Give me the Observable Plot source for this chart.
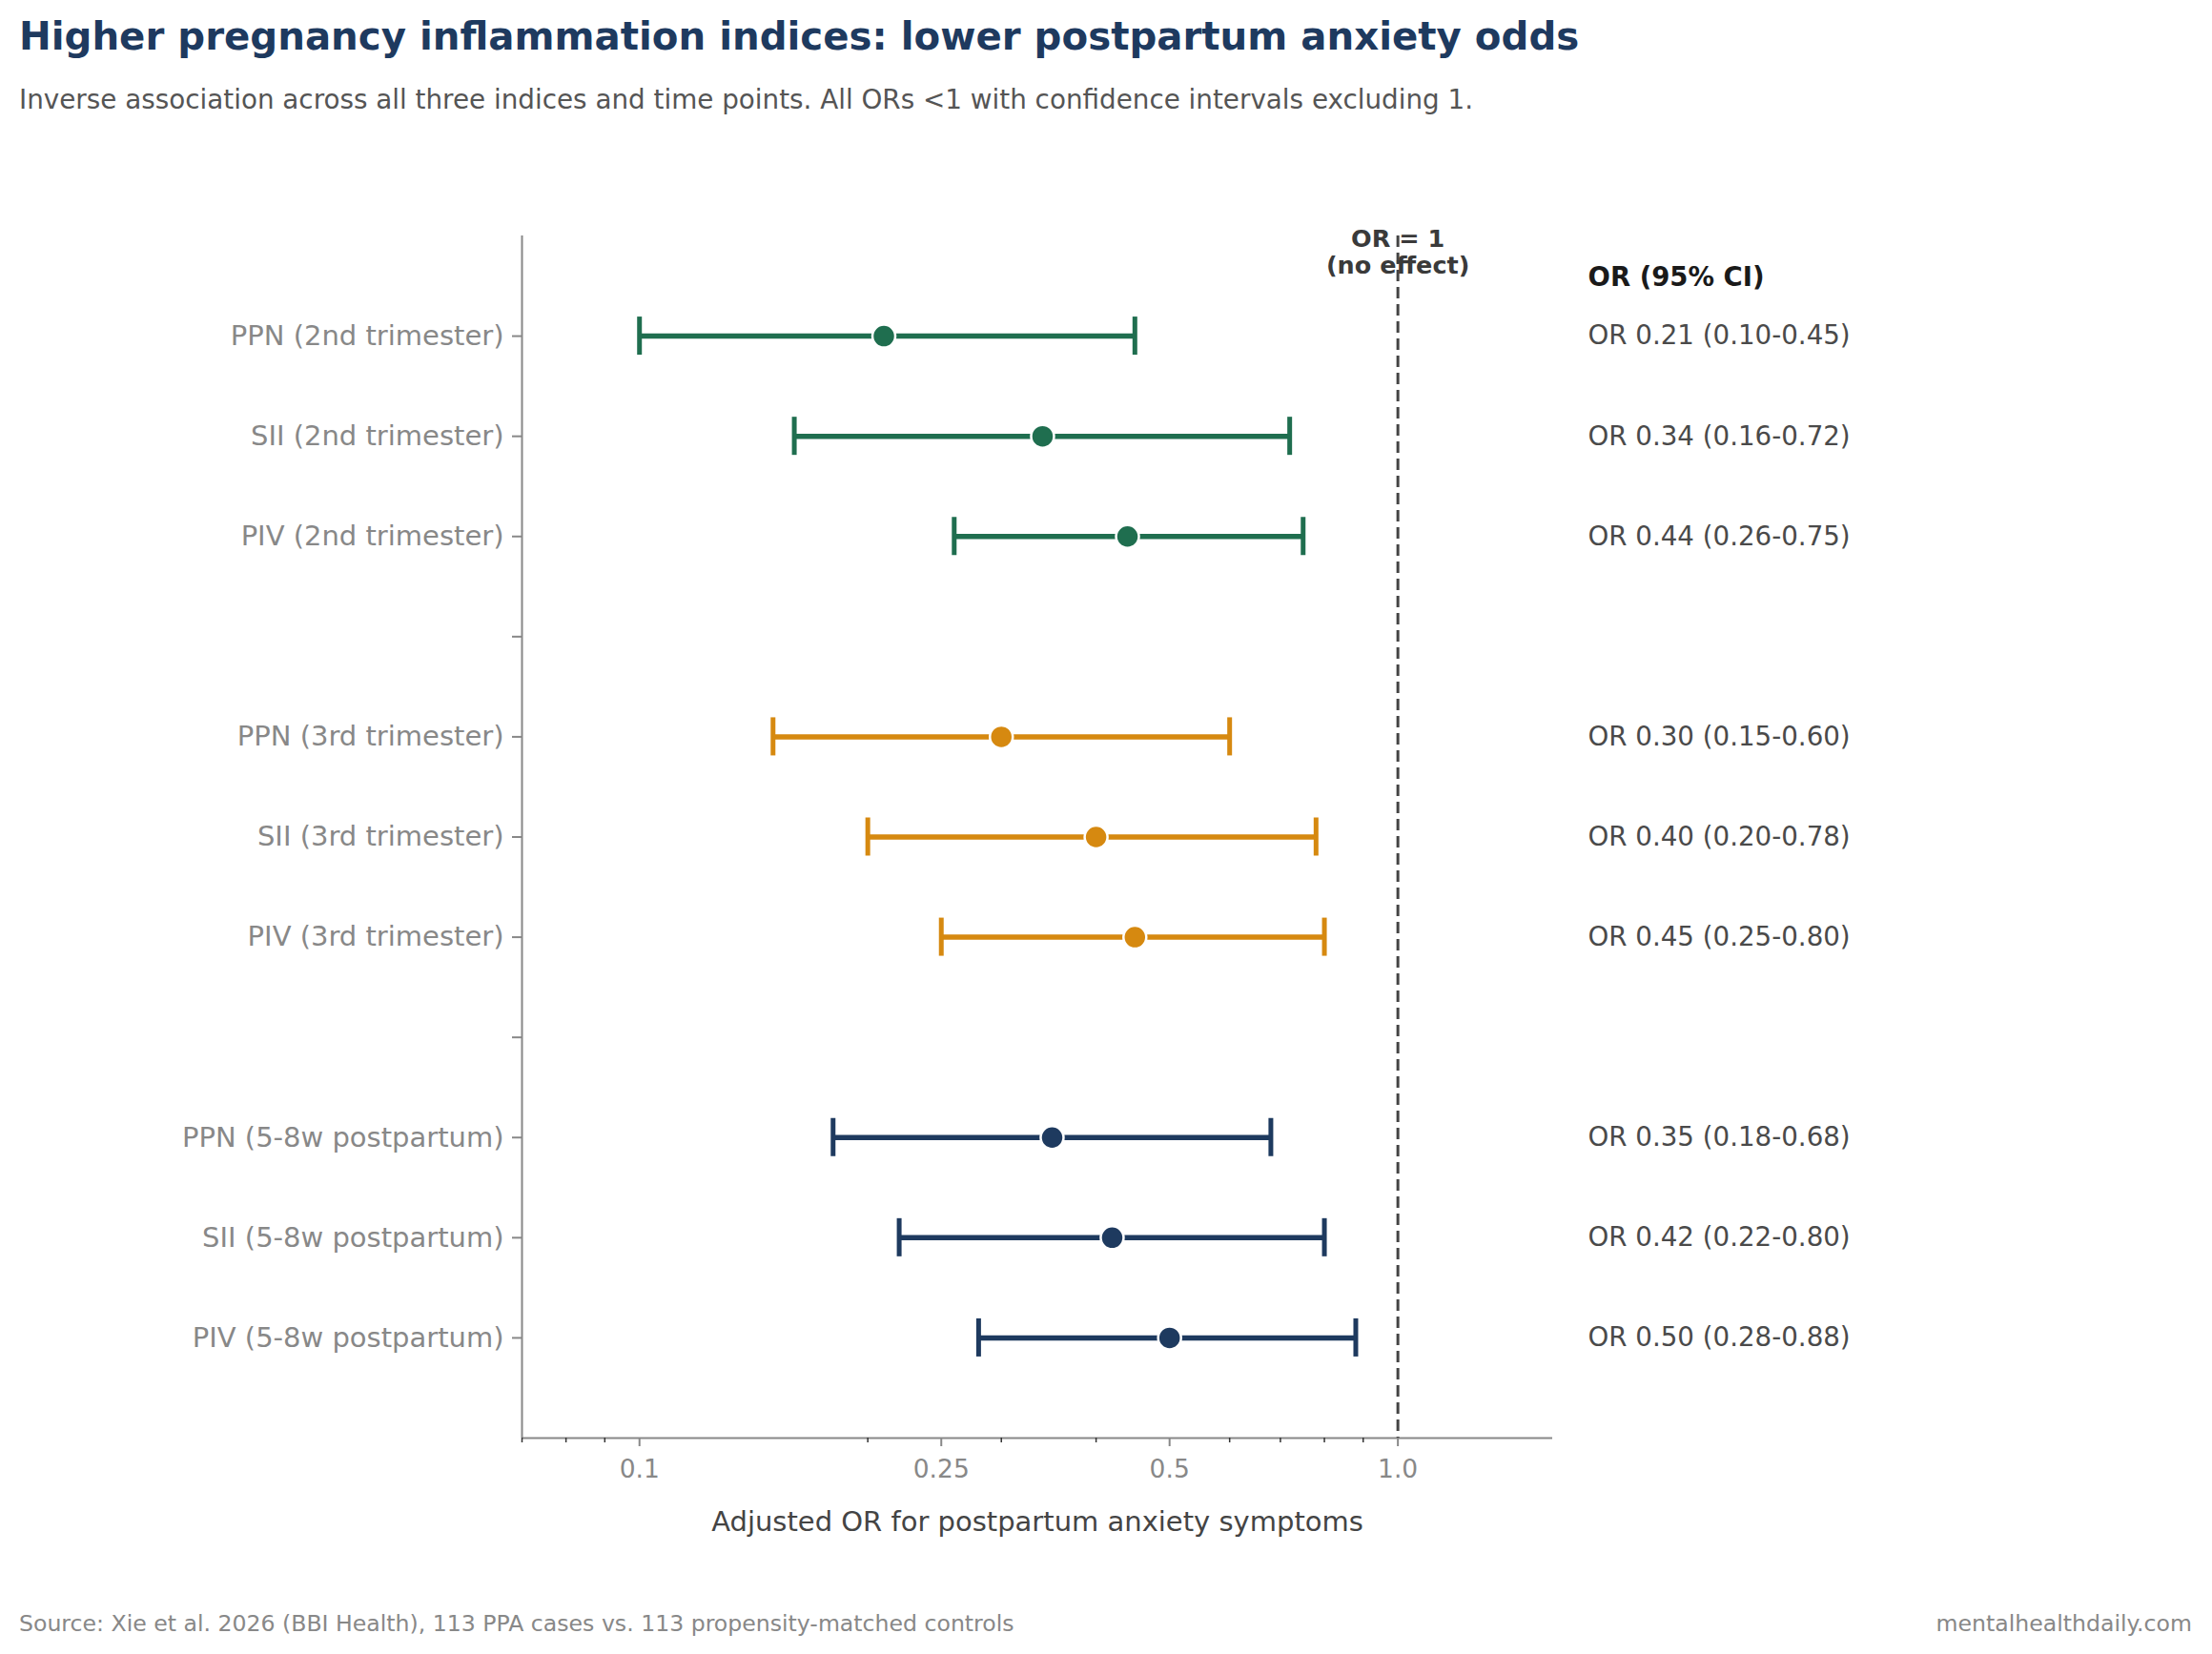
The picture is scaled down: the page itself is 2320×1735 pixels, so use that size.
<!DOCTYPE html>
<html>
<head>
<meta charset="utf-8">
<script src="https://cdn.jsdelivr.net/npm/d3@7"></script>
<script src="https://cdn.jsdelivr.net/npm/@observablehq/plot@0.6"></script>
<style>
  body { margin: 0; background: #fff; font-family: "DejaVu Sans", sans-serif; }
  #page { position: relative; width: 2320px; height: 1735px; overflow: hidden; background: #fff; }
  .title { position: absolute; left: 20px; top: 15px; font-size: 40.3px; font-weight: bold; color: #1e3a5f; line-height: 1.2; white-space: nowrap; }
  .subtitle { position: absolute; left: 20px; top: 88px; font-size: 27.8px; color: #555; line-height: 1.2; white-space: nowrap; }
  #chart { position: absolute; left: 0; top: 140px; }
  .foot { position: absolute; top: 1689px; font-size: 23.6px; color: #888; line-height: 1.2; white-space: nowrap; }
  .foot.left { left: 20px; }
  .foot.right { right: 21px; }
</style>
</head>
<body>
<div id="page">
  <div class="title">Higher pregnancy inflammation indices: lower postpartum anxiety odds</div>
  <div class="subtitle">Inverse association across all three indices and time points. All ORs &lt;1 with confidence intervals excluding 1.</div>
  <div id="chart"></div>
  <div class="foot left">Source: Xie et al. 2026 (BBI Health), 113 PPA cases vs. 113 propensity-matched controls</div>
  <div class="foot right">mentalhealthdaily.com</div>
</div>
<script>
// Inflammation indices and measurement periods
const indices = ["PPN", "SII", "PIV"];
const periods = ["2nd trimester", "3rd trimester", "5-8w postpartum"];
const periodColors = ["#1f6e4f", "#d68910", "#1e3a5f"];

// Adjusted odds ratios with 95% CI, ordered period by period (PPN, SII, PIV)
const oddsRatios = [0.21, 0.34, 0.44, 0.30, 0.40, 0.45, 0.35, 0.42, 0.50];
const ciLower    = [0.10, 0.16, 0.26, 0.15, 0.20, 0.25, 0.18, 0.22, 0.28];
const ciUpper    = [0.45, 0.72, 0.75, 0.60, 0.78, 0.80, 0.68, 0.80, 0.88];

// Log-scale axis ticks
const xDomain = [0.07, 1.6];
const majorTicks = [0.1, 0.25, 0.5, 1.0];
const majorTickLabels = ["0.1", "0.25", "0.5", "1.0"];
const minorTicks = [0.07, 0.08, 0.09, 0.2, 0.3, 0.4, 0.6, 0.7, 0.8, 0.9];

// One row per estimate, with an empty row between periods
const rows = periods.flatMap((period, g) =>
  indices.map((index, k) => {
    const i = g * indices.length + k;
    return {
      label: `${index} (${period})`,
      pos: g * (indices.length + 1) + k,
      color: periodColors[g],
      or: oddsRatios[i],
      lo: ciLower[i],
      hi: ciUpper[i]
    };
  })
);
const lastPos = d3.max(rows, d => d.pos);
const yDomain = [-1, lastPos + 1];
const rowTicks = d3.range(0, lastPos + 1);
const labelAt = new Map(rows.map(d => [d.pos, d.label]));
const fmt = d3.format(".2f");

const chart = Plot.plot({
  width: 2320,
  height: 1520,
  marginTop: 107,
  marginBottom: 152,
  marginLeft: 547,
  marginRight: 692,
  style: { fontFamily: "DejaVu Sans, sans-serif", background: "#fff", overflow: "visible" },
  x: { type: "log", domain: xDomain },
  y: { domain: yDomain, reverse: true },
  color: { type: "identity" },
  marks: [
    // spines
    Plot.ruleX([xDomain[0]], { stroke: "#888", strokeWidth: 2 }),
    Plot.ruleY([yDomain[1]], { stroke: "#888", strokeWidth: 2 }),
    // axes
    Plot.axisY({
      ticks: rowTicks,
      tickFormat: p => labelAt.get(p) ?? "",
      tickSize: 10,
      tickPadding: 9,
      fontSize: 29,
      color: "#888",
      strokeWidth: 2,
      label: null
    }),
    Plot.axisX({
      ticks: minorTicks,
      tickFormat: () => "",
      tickSize: 5,
      stroke: "#333",
      strokeWidth: 1.5,
      label: null
    }),
    Plot.axisX({
      ticks: majorTicks,
      tickFormat: d => majorTickLabels[majorTicks.indexOf(d)],
      tickSize: 9,
      tickPadding: 14,
      fontSize: 26.5,
      color: "#888",
      strokeWidth: 2,
      label: null
    }),
    Plot.text(["Adjusted OR for postpartum anxiety symptoms"], {
      frameAnchor: "bottom",
      dy: 97,
      fontSize: 29,
      fill: "#444"
    }),
    // no-effect reference line
    Plot.ruleX([1], { stroke: "#444", strokeWidth: 3, strokeDasharray: "12,6" }),
    Plot.text([1], {
      x: d => d,
      frameAnchor: "top",
      text: () => "OR = 1\n(no effect)",
      dy: -8,
      lineHeight: 1.1,
      fontSize: 25.5,
      fontWeight: "bold",
      fill: "#3a3a3a"
    }),
    // confidence intervals with end caps
    Plot.ruleY(rows, { x1: "lo", x2: "hi", y: "pos", stroke: "color", strokeWidth: 5.5 }),
    Plot.ruleX(rows, { x: "lo", y1: "pos", y2: "pos", insetTop: -20, insetBottom: -20, stroke: "color", strokeWidth: 5 }),
    Plot.ruleX(rows, { x: "hi", y1: "pos", y2: "pos", insetTop: -20, insetBottom: -20, stroke: "color", strokeWidth: 5 }),
    // point estimates
    Plot.dot(rows, { x: "or", y: "pos", r: 12, fill: "color", stroke: "white", strokeWidth: 2.5 }),
    // value column
    Plot.text(["OR (95% CI)"], {
      frameAnchor: "top-right",
      dx: 37,
      dy: 33,
      textAnchor: "start",
      fontSize: 27.5,
      fontWeight: "bold",
      fill: "#1a1a1a"
    }),
    Plot.text(rows, {
      y: "pos",
      frameAnchor: "right",
      dx: 37,
      textAnchor: "start",
      text: d => `OR ${fmt(d.or)} (${fmt(d.lo)}-${fmt(d.hi)})`,
      fontSize: 27.7,
      fill: "#4a4a4a"
    })
  ]
});
document.getElementById("chart").appendChild(chart);
</script>
</body>
</html>
